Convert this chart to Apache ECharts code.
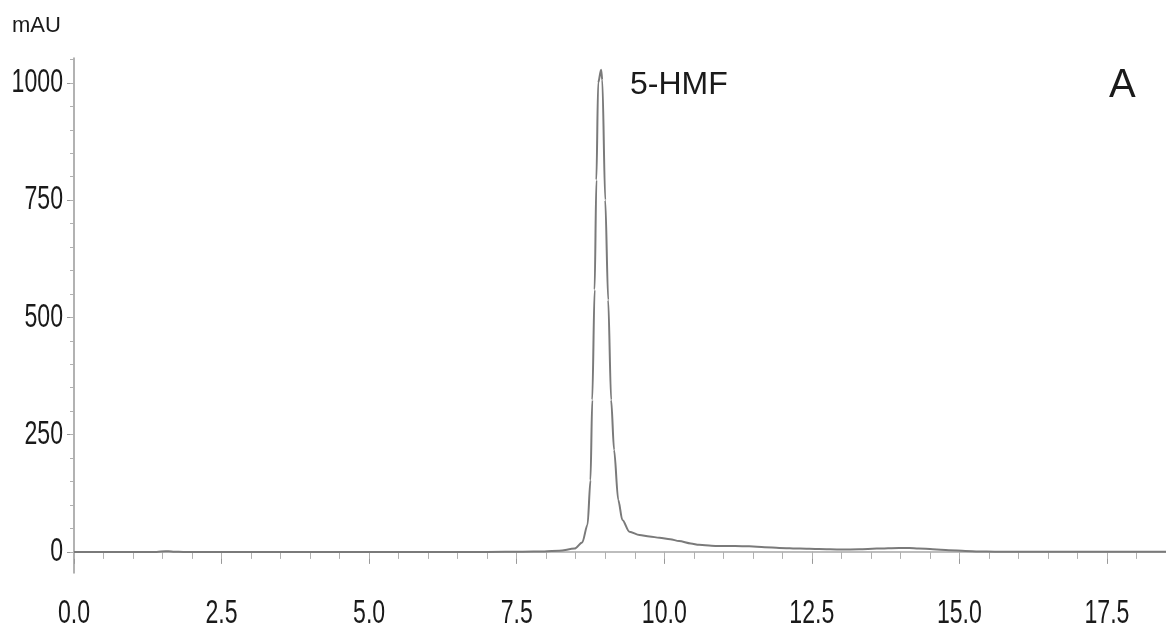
<!DOCTYPE html>
<html>
<head>
<meta charset="utf-8">
<script src="https://cdn.jsdelivr.net/npm/echarts@6/dist/echarts.min.js"></script>
<style>
  html, body { margin: 0; padding: 0; background: #fff; }
  #chart { width: 1166px; height: 635px; }
</style>
</head>
<body>
<div id="chart"></div>
<script>
// retention time (min) and signal (mAU)
var retTime = [0, 1.4, 1.55, 1.6, 1.7, 1.85, 3, 5, 7, 7.6, 7.97, 8.22, 8.48, 8.61, 8.7, 8.75, 8.78, 8.82, 8.85, 8.88,
  8.93, 8.95, 9.0, 9.05, 9.1, 9.15, 9.22, 9.29, 9.41, 9.58, 9.75, 9.92, 10.1, 10.25, 10.45, 10.59, 10.8, 10.93,
  11.2, 11.44, 11.7, 11.95, 12.3, 12.62, 13.0, 13.3, 13.6, 13.98, 14.15, 14.31, 14.55, 14.82, 15.1, 15.33, 15.6,
  16.5, 17.5, 18.5];
var signal = [0, 0, 1.5, 1.5, 0.5, 0, 0, 0, 0, 0.5, 1, 2.5, 7, 20, 58, 153, 324, 559, 793, 1000,
  1028, 1006, 750, 537, 324, 217, 111, 68, 43, 36, 33, 30, 27, 23, 18, 15, 13, 12.5,
  12.5, 12, 10, 8.5, 7, 6, 5, 5.5, 7, 8.5, 8.5, 7.5, 5.5, 3.5, 2, 1, 0.5,
  0.5, 0.5, 0.5];

var xMajorTicks = [0, 2.5, 5, 7.5, 10, 12.5, 15, 17.5];
var xMinorTicks = [0, 0.5, 1, 1.5, 2, 2.5, 3, 3.5, 4, 4.5, 5, 5.5, 6, 6.5, 7, 7.5, 8, 8.5, 9, 9.5, 10, 10.5, 11,
  11.5, 12, 12.5, 13, 13.5, 14, 14.5, 15, 15.5, 16, 16.5, 17, 17.5, 18];
var yMajorTicks = [0, 250, 500, 750, 1000];
var yMinorTicks = [0, 50, 100, 150, 200, 250, 300, 350, 400, 450, 500, 550, 600, 650, 700, 750, 800, 850, 900,
  950, 1000, 1050];

var points = retTime.map(function (t, i) { return [t, signal[i]]; });

var font = '"Liberation Sans", Arial, sans-serif';
var axisGrey = '#a8a8a8';

var chart = echarts.init(document.getElementById('chart'));
var option = {
  backgroundColor: '#fff',
  animation: false,
  grid: { left: 74, right: 0, top: 58, bottom: 62, outerBoundsMode: 'none' },
  xAxis: [
    {
      type: 'value', min: 0, max: 18.5,
      splitLine: { show: false },
      axisLine: { lineStyle: { color: axisGrey, width: 1.5 } },
      axisTick: { customValues: xMajorTicks, length: 12, lineStyle: { color: '#999' } },
      axisLabel: { show: false }
    },
    {
      type: 'value', min: 0, max: 18.5, position: 'bottom',
      splitLine: { show: false },
      axisLine: { show: false },
      axisTick: { customValues: xMinorTicks, length: 7, lineStyle: { color: '#b0b0b0' } },
      axisLabel: { show: false }
    }
  ],
  yAxis: [
    {
      type: 'value', min: -45, max: 1053,
      splitLine: { show: false },
      axisLine: { show: true, onZero: false, lineStyle: { color: '#999', width: 1.5 } },
      axisTick: { customValues: yMajorTicks, length: 7, lineStyle: { color: '#999' } },
      axisLabel: { show: false }
    },
    {
      type: 'value', min: -45, max: 1053, position: 'left',
      splitLine: { show: false },
      axisLine: { show: false },
      axisTick: { customValues: yMinorTicks, length: 4, lineStyle: { color: '#b0b0b0' } },
      axisLabel: { show: false }
    }
  ],
  series: [
    {
      type: 'line',
      data: points,
      showSymbol: false,
      smooth: 0.3,
      smoothMonotone: 'x',
      lineStyle: { color: '#7a7a7a', width: 2 }
    }
  ]
};
chart.setOption(option);

// condensed tick labels: placed through the axes, squeezed horizontally
var labels = [
  { type: 'text', left: 12, top: 15, style: { text: 'mAU', fontSize: 22, fill: '#1a1a1a', fontFamily: font } },
  { type: 'text', left: 630, top: 69, style: { text: '5-HMF', fontSize: 32, fill: '#1a1a1a', fontFamily: font } },
  { type: 'text', left: 1109, top: 66, style: { text: 'A', fontSize: 40, fill: '#1a1a1a', fontFamily: font } }
];
xMajorTicks.forEach(function (v) {
  labels.push({
    type: 'text', x: chart.convertToPixel({ xAxisIndex: 0 }, v), y: 614, scaleX: 0.68,
    style: { text: v.toFixed(1), fontSize: 34, fill: '#1a1a1a', fontFamily: font, align: 'center', verticalAlign: 'middle' }
  });
});
yMajorTicks.forEach(function (v) {
  labels.push({
    type: 'text', x: 63, y: chart.convertToPixel({ yAxisIndex: 0 }, v), scaleX: 0.68,
    style: { text: String(v), fontSize: 34, fill: '#1a1a1a', fontFamily: font, align: 'right', verticalAlign: 'middle' }
  });
});
chart.setOption({ graphic: labels });
</script>
</body>
</html>
